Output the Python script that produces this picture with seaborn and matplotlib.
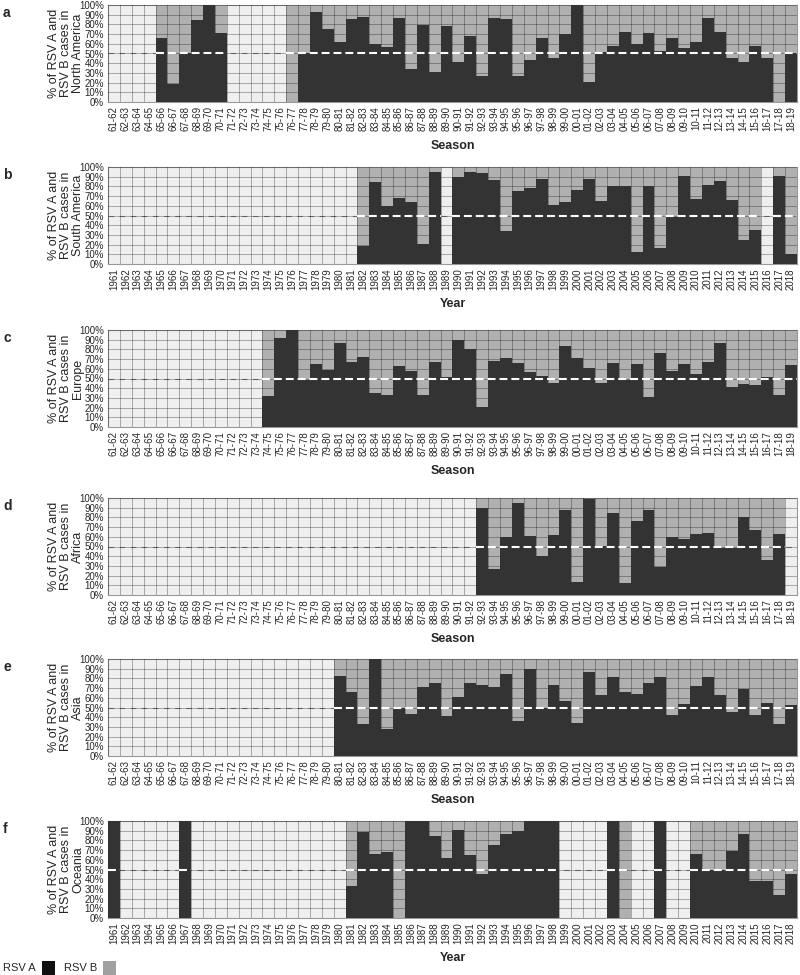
import numpy as np
import pandas as pd
import matplotlib
matplotlib.use("Agg")
import matplotlib.pyplot as plt
import seaborn as sns
from matplotlib.patches import Rectangle

sns.set_style("white")
plt.rcParams["font.family"] = ["Liberation Sans", "DejaVu Sans"]

nan = np.nan

seasons = ["61-62", "62-63", "63-64", "64-65", "65-66", "66-67", "67-68", "68-69", "69-70", "70-71",
           "71-72", "72-73", "73-74", "74-75", "75-76", "76-77", "77-78", "78-79", "79-80", "80-81",
           "81-82", "82-83", "83-84", "84-85", "85-86", "86-87", "87-88", "88-89", "89-90", "90-91",
           "91-92", "92-93", "93-94", "94-95", "95-96", "96-97", "97-98", "98-99", "99-00", "00-01",
           "01-02", "02-03", "03-04", "04-05", "05-06", "06-07", "07-08", "08-09", "09-10", "10-11",
           "11-12", "12-13", "13-14", "14-15", "15-16", "16-17", "17-18", "18-19"]
years = ["1961", "1962", "1963", "1964", "1965", "1966", "1967", "1968", "1969", "1970",
         "1971", "1972", "1973", "1974", "1975", "1976", "1977", "1978", "1979", "1980",
         "1981", "1982", "1983", "1984", "1985", "1986", "1987", "1988", "1989", "1990",
         "1991", "1992", "1993", "1994", "1995", "1996", "1997", "1998", "1999", "2000",
         "2001", "2002", "2003", "2004", "2005", "2006", "2007", "2008", "2009", "2010",
         "2011", "2012", "2013", "2014", "2015", "2016", "2017", "2018"]

# % RSV A (remaining to 100% is RSV B); nan = no data
north_america = [nan, nan, nan, nan, 66, 19, 50, 85, 100, 71,
                 nan, nan, nan, nan, nan, 0, 50, 93, 75, 62,
                 86, 88, 60, 57, 87, 34, 79, 31, 78, 41,
                 68, 27, 87, 86, 27, 43, 66, 45, 70, 100,
                 21, 52, 58, 72, 60, 71, 53, 66, 56, 62,
                 87, 72, 45, 41, 58, 45, 0, 50]
south_america = [nan, nan, nan, nan, nan, nan, nan, nan, nan, nan,
                 nan, nan, nan, nan, nan, nan, nan, nan, nan, nan,
                 nan, 19, 85, 60, 68, 64, 21, 95, nan, 90,
                 95, 94, 87, 34, 75, 78, 88, 61, 64, 76,
                 88, 65, 80, 80, 12, 80, 17, 48, 91, 67,
                 81, 86, 66, 25, 35, nan, 91, 10]
europe = [nan, nan, nan, nan, nan, nan, nan, nan, nan, nan,
          nan, nan, nan, 32, 92, 100, 48, 65, 59, 87,
          67, 72, 35, 33, 63, 58, 33, 67, 52, 90,
          80, 21, 68, 71, 66, 57, 53, 45, 83, 71,
          61, 45, 66, 48, 65, 31, 76, 58, 65, 55,
          67, 87, 41, 44, 43, 52, 33, 64]
africa = [nan, nan, nan, nan, nan, nan, nan, nan, nan, nan,
          nan, nan, nan, nan, nan, nan, nan, nan, nan, nan,
          nan, nan, nan, nan, nan, nan, nan, nan, nan, nan,
          nan, 90, 27, 60, 95, 61, 40, 62, 88, 13,
          99, 51, 85, 12, 76, 88, 29, 60, 58, 63,
          64, 48, 48, 80, 67, 36, 63, nan]
asia = [nan, nan, nan, nan, nan, nan, nan, nan, nan, nan,
        nan, nan, nan, nan, nan, nan, nan, nan, nan, 82,
        66, 33, 100, 28, 50, 43, 71, 75, 41, 61,
        75, 73, 71, 85, 36, 90, 49, 73, 57, 34,
        87, 63, 81, 66, 64, 75, 81, 42, 54, 72,
        81, 63, 45, 69, 42, 55, 33, 53]
oceania = [100, nan, nan, nan, nan, nan, 100, nan, nan, nan,
           nan, nan, nan, nan, nan, nan, nan, nan, nan, nan,
           33, 89, 66, 68, 0, 100, 100, 85, 62, 91,
           65, 45, 75, 87, 90, 100, 100, 100, nan, nan,
           nan, nan, 100, 0, nan, nan, 100, nan, nan, 66,
           50, 50, 69, 87, 38, 38, 24, 45]

panels = [
    ("a", north_america, seasons, "Season", "North America"),
    ("b", south_america, years, "Year", "South America"),
    ("c", europe, seasons, "Season", "Europe"),
    ("d", africa, seasons, "Season", "Africa"),
    ("e", asia, seasons, "Season", "Asia"),
    ("f", oceania, years, "Year", "Oceania"),
]

DARK = "#333333"
GRAY = "#b0b0b0"
EMPTY = "#efefef"

W, H = 800, 975
fig = plt.figure(figsize=(W / 100, H / 100), dpi=100)

tops = [5, 167, 330, 498, 659, 821]
ax_h = 97
left_px, right_px = 108, 797

for (letter, vals, labels, xlab, region), top in zip(panels, tops):
    ax = fig.add_axes([left_px / W, 1 - (top + ax_h) / H, (right_px - left_px) / W, ax_h / H])
    ax.set_facecolor(EMPTY)
    df = pd.DataFrame({"label": labels, "A": vals})
    df["total"] = np.where(df["A"].notna(), 100.0, np.nan)
    present = df.dropna()
    sns.barplot(data=present, x="label", y="total", order=labels, color=GRAY,
                width=1.0, errorbar=None, linewidth=0, saturation=1, ax=ax, zorder=2)
    sns.barplot(data=present, x="label", y="A", order=labels, color=DARK,
                width=1.0, errorbar=None, linewidth=0, saturation=1, ax=ax, zorder=3)
    n = len(labels)
    ax.set_xlim(-0.5, n - 0.5)
    ax.set_ylim(0, 100)

    # 50% reference line: grey across empty cells, white over data
    ax.axhline(50, color="#8a8a8a", lw=0.8, ls=(0, (5, 5)), zorder=1.5)
    has = df["A"].notna().to_numpy()
    i = 0
    while i < n:
        if has[i]:
            j = i
            while j + 1 < n and has[j + 1]:
                j += 1
            ax.plot([i - 0.5, j + 0.5], [50, 50], color="white", lw=1.5,
                    ls=(0, (3.8, 1.9)), zorder=5, solid_capstyle="butt")
            i = j + 1
        else:
            i += 1

    ax.set_yticks(np.arange(0, 101, 10))
    ax.set_yticklabels([f"{v}%" for v in range(0, 101, 10)], fontsize=7)
    ax.set_xticks(np.arange(n))
    ax.set_xticklabels(labels, rotation=90, fontsize=7)
    ax.set_xticks(np.arange(-0.5, n, 1), minor=True)
    ax.tick_params(axis="x", which="minor", length=0)
    ax.tick_params(axis="x", which="major", length=2, pad=1, color="#666")
    ax.tick_params(axis="y", length=2, pad=1, color="#666")
    ax.grid(which="minor", axis="x", color="black", alpha=0.3, lw=0.7, zorder=4)
    ax.grid(which="major", axis="y", color="black", alpha=0.3, lw=0.7, zorder=4)
    ax.grid(which="major", axis="x", visible=False)
    ax.set_axisbelow(False)
    for s in ax.spines.values():
        s.set_color("#999999")
        s.set_linewidth(0.8)
    ax.set_xlabel(xlab, fontsize=9, fontweight="bold", labelpad=6)
    ax.set_ylabel("")
    cy = 1 - (top + ax_h / 2) / H
    fig.text(66 / W, cy, f"% of RSV A and\nRSV B cases in\n{region}", rotation=90,
             ha="center", va="center", fontsize=9, linespacing=1.05, multialignment="center")
    fig.text(3 / W, 1 - (top + 1) / H, letter, fontsize=10, fontweight="bold",
             ha="left", va="top")

# legend
fig.text(3 / W, 1 - 968 / H, "RSV A", fontsize=8, ha="left", va="center")
fig.add_artist(Rectangle((42 / W, 1 - 975 / H), 13 / W, 14 / H, transform=fig.transFigure,
                         facecolor="#111111", edgecolor="none"))
fig.text(64 / W, 1 - 968 / H, "RSV B", fontsize=8, ha="left", va="center")
fig.add_artist(Rectangle((103 / W, 1 - 975 / H), 13 / W, 14 / H, transform=fig.transFigure,
                         facecolor="#a0a0a0", edgecolor="none"))

fig.savefig("out.png", dpi=100)
